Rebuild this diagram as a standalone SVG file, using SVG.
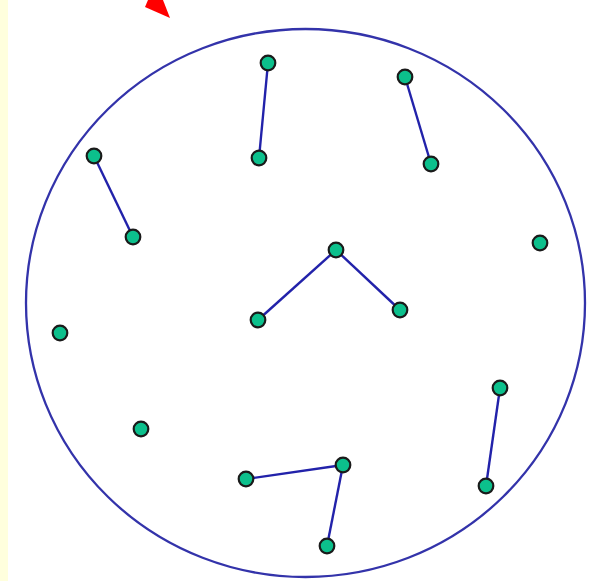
<svg xmlns="http://www.w3.org/2000/svg" width="593" height="581" viewBox="0 0 593 581">
<style>
.n{fill:#0cc08c;stroke:#1a1a1a;stroke-width:2.2}
.e{stroke:#2222aa;stroke-width:2.4;fill:none}
</style>
<rect x="0" y="0" width="593" height="581" fill="#ffffff"/>
<rect x="0" y="0" width="8" height="581" fill="#ffffdd"/>
<polygon points="148,0 145,7 170,18 163,0" fill="#ff0000"/>
<ellipse cx="305.5" cy="303" rx="279.5" ry="274" fill="none" stroke="#3333aa" stroke-width="2.3"/>
<g id="connectors">
<line class="e" x1="268" y1="63" x2="259" y2="158"/>
<line class="e" x1="405" y1="77" x2="431" y2="164"/>
<line class="e" x1="94" y1="156" x2="133" y2="237"/>
<line class="e" x1="336" y1="250" x2="258" y2="320"/>
<line class="e" x1="336" y1="250" x2="400" y2="310"/>
<line class="e" x1="500" y1="388" x2="486" y2="486"/>
<line class="e" x1="246" y1="479" x2="343" y2="465"/>
<line class="e" x1="343" y1="465" x2="327" y2="546"/>
</g>
<g id="n1"><circle class="n" cx="268" cy="63" r="7.3"/></g>
<g id="n2"><circle class="n" cx="259" cy="158" r="7.3"/></g>
<g id="n3"><circle class="n" cx="405" cy="77" r="7.3"/></g>
<g id="n4"><circle class="n" cx="431" cy="164" r="7.3"/></g>
<g id="n5"><circle class="n" cx="94" cy="156" r="7.3"/></g>
<g id="n6"><circle class="n" cx="133" cy="237" r="7.3"/></g>
<g id="n7"><circle class="n" cx="540" cy="243" r="7.3"/></g>
<g id="n8"><circle class="n" cx="336" cy="250" r="7.3"/></g>
<g id="n9"><circle class="n" cx="258" cy="320" r="7.3"/></g>
<g id="n10"><circle class="n" cx="400" cy="310" r="7.3"/></g>
<g id="n11"><circle class="n" cx="60" cy="333" r="7.3"/></g>
<g id="n12"><circle class="n" cx="500" cy="388" r="7.3"/></g>
<g id="n13"><circle class="n" cx="486" cy="486" r="7.3"/></g>
<g id="n14"><circle class="n" cx="141" cy="429" r="7.3"/></g>
<g id="n15"><circle class="n" cx="246" cy="479" r="7.3"/></g>
<g id="n16"><circle class="n" cx="343" cy="465" r="7.3"/></g>
<g id="n17"><circle class="n" cx="327" cy="546" r="7.3"/></g>
</svg>
